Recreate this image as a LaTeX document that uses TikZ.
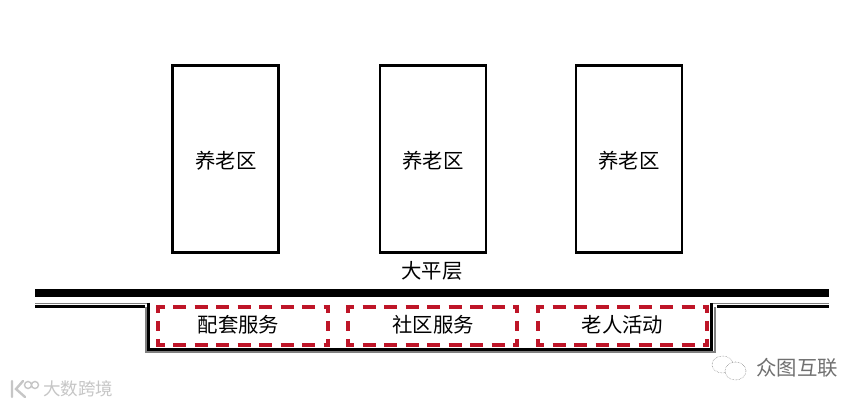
\documentclass[tikz,border=0pt]{standalone}
\usepackage{fontspec}
\setmainfont{Noto Sans CJK SC}
\usepackage{xcolor}
\definecolor{careRed}{HTML}{BE1528}
\definecolor{wallGray}{HTML}{808080}
\definecolor{markLight}{HTML}{C6C6C6}
\definecolor{markDark}{HTML}{707070}
\tikzset{
  zone/.style={draw=black,line width=2.2pt,minimum width=106pt,minimum height=187pt,inner sep=0pt},
  label/.style={inner sep=0pt,font=\fontsize{20.4}{24}\selectfont},
  redtop/.style={draw=careRed,line width=4.2pt,dash pattern=on 13.2pt off 8.3pt,dash phase=4.7pt,
    shorten <=-2pt,shorten >=-2pt},
  redside/.style={draw=careRed,line width=4.2pt,dash pattern=on 8pt off 8pt on 10pt off 8pt on 8pt,
    shorten <=-2pt,shorten >=-2pt},
  wallblack/.style={draw=black,line width=3pt},
  wallgray/.style={draw=wallGray,line width=1.4pt},
}
% one dashed room of the lower floor: name, left x, right x, text x, text
\newcommand{\careroom}[5]{%
  \node[minimum height=38pt,minimum width=#3pt-#2pt,inner sep=0pt] (#1) at ({(#2+#3)/2},326) {};
  \node[label] (#1text) at (#4,325) {#5};
  \draw[redtop] (#1.north west) -- (#1.north east);
  \draw[redtop] (#1.south west) -- (#1.south east);
  \draw[redside] (#1.north west) -- (#1.south west);
  \draw[redside] (#1.north east) -- (#1.south east);
}

\begin{document}
\begin{tikzpicture}[x=1pt,y=-1pt]
  \useasboundingbox[fill=white] (0,0) rectangle (865,406);

  % upper blocks
  \node[zone] (blockA) at (225.5,159) {};
  \node[zone] (blockB) at (433,159) {};
  \node[zone] (blockC) at (629,159) {};
  \node[label] (textA) at (226,161) {养老区};
  \node[label] (textB) at (433,161) {养老区};
  \node[label] (textC) at (629,161) {养老区};
  \node[label] (podium) at (432,271) {大平层};

  % walls
  \fill[black] (35,289) rectangle (829,297);
  \draw[wallgray] (35,303.2) -- (147.5,303.2);
  \draw[wallblack] (35,306) -- (145,306);
  \draw[wallgray] (146,307) -- (146,352) -- (715,352) -- (715,307);
  \draw[wallblack] (148.4,302.5) -- (148.4,349.6) -- (711.6,349.6) -- (711.6,302.5);
  \draw[wallgray] (712.5,303.2) -- (829,303.2);
  \draw[wallblack] (717,306) -- (829,306);

  % lower rooms
  \careroom{roomA}{158.5}{328}{238.5}{配套服务}
  \careroom{roomB}{348}{517}{433}{社区服务}
  \careroom{roomC}{538}{707}{622.5}{老人活动}

  % watermarks
  \draw[markLight,line width=2.4pt,line cap=round] (12,381) -- (12,397) (23,381) -- (16,389) -- (25,397);
  \draw[markLight,line width=1.4pt] (28,385) circle (3.5pt) (35,385) circle (3.5pt);
  \node[inner sep=0pt,text=markLight,font=\fontsize{17.5}{20}\selectfont] (markLeft) at (78,389) {大数跨境};
  \draw[markDark,line width=0.5pt,densely dotted] (722.5,364.5) ellipse (10.5pt and 8.5pt);
  \draw[markDark,line width=0.5pt,densely dotted,fill=white] (735.5,371) ellipse (10.5pt and 9pt);
  \node[inner sep=0pt,text=markDark,font=\fontsize{20.4}{24}\selectfont] (markRight) at (797,368) {众图互联};
\end{tikzpicture}
\end{document}
